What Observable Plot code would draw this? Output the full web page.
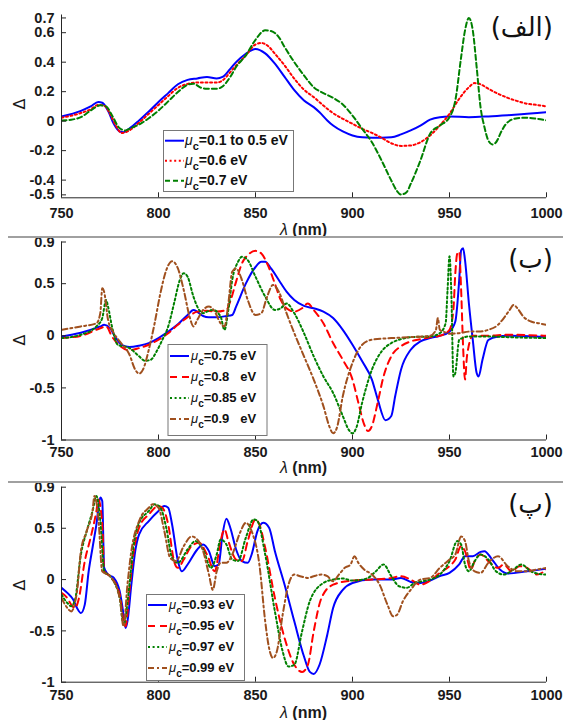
<!DOCTYPE html>
<html><head><meta charset="utf-8">
<script src="https://cdn.jsdelivr.net/npm/d3@7"></script>
<script src="https://cdn.jsdelivr.net/npm/@observablehq/plot@0.6"></script>
<style>
body{margin:0;background:#fff;}
#root{position:relative;width:563px;height:720px;overflow:hidden;background:#fff;}
.sep{position:absolute;left:8px;width:555px;height:2px;background:#a0a0a0;}
</style></head>
<body><div id="root"></div>
<script>
// ---------- data ----------
const xDomain = [750, 1000];
const xTicks = [750, 800, 850, 900, 950, 1000];

// panel (الف)
const p1Labels = ["0.1 to 0.5 eV", "0.6 eV", "0.7 eV"];
const p1BlueX = [750,760,765,769,771,774,777,780,782,785,790,795,800,805,810,815,820,825,830,833,837,840,845,850,855,860,865,870,875,880,883,887,890,895,900,905,910,915,920,925,930,935,940,945,950,960,970,980,990,1000];
const p1BlueY = [0.032,0.07,0.10,0.13,0.125,0.07,-0.02,-0.07,-0.075,-0.05,0.005,0.065,0.13,0.19,0.25,0.28,0.29,0.30,0.29,0.30,0.355,0.40,0.457,0.49,0.46,0.39,0.30,0.21,0.14,0.095,0.06,0.005,-0.03,-0.07,-0.097,-0.11,-0.113,-0.113,-0.11,-0.09,-0.063,-0.03,0.01,0.027,0.032,0.027,0.032,0.04,0.05,0.06];
const p1RedX = [750,760,765,769,772,775,778,781,785,790,795,800,805,810,815,820,825,830,833,837,840,845,850,853,857,860,865,870,875,880,885,890,895,900,905,910,915,920,925,930,935,940,945,950,955,960,963,966,970,975,980,985,990,995,1000];
const p1RedY = [0.023,0.055,0.08,0.11,0.105,0.05,-0.03,-0.08,-0.063,-0.01,0.05,0.11,0.17,0.226,0.253,0.262,0.262,0.262,0.276,0.333,0.378,0.446,0.52,0.53,0.503,0.457,0.378,0.288,0.213,0.163,0.106,0.054,0.016,-0.018,-0.052,-0.08,-0.113,-0.15,-0.168,-0.165,-0.143,-0.097,-0.03,0.05,0.152,0.23,0.258,0.25,0.22,0.186,0.158,0.136,0.118,0.11,0.10];
const p1GreenX = [750,755,760,765,770,773,776,780,783,785,790,795,800,805,810,815,818,822,825,830,833,837,840,845,850,855,858,862,865,870,875,880,885,890,895,900,905,910,915,920,923,925,928,930,935,940,945,950,953,956,958,960,962,964,966,968,970,972,974,977,980,985,990,995,1000];
const p1GreenY = [0.005,0.01,0.027,0.072,0.107,0.10,0.04,-0.048,-0.063,-0.052,-0.023,0.02,0.072,0.134,0.197,0.247,0.254,0.226,0.22,0.22,0.235,0.30,0.367,0.446,0.552,0.616,0.611,0.57,0.503,0.40,0.31,0.23,0.19,0.158,0.113,0.038,-0.052,-0.143,-0.267,-0.403,-0.475,-0.498,-0.48,-0.426,-0.267,-0.086,-0.03,0.027,0.14,0.435,0.616,0.70,0.616,0.367,0.095,-0.04,-0.131,-0.158,-0.143,-0.063,-0.007,0.02,0.023,0.016,0.005];

// panel (ب)
const p2Labels = ["0.75 eV", "0.8   eV", "0.85 eV", "0.9   eV"];
const p2BlueX = [750,760,770,772,775,778,781,785,790,795,800,805,810,815,818,820,823,826,830,835,838,840,845,850,853,855,858,862,866,870,875,880,885,890,895,900,905,910,913,917,920,922,925,930,935,940,945,950,953,955,956,957,958,960,962,964,965,967,970,975,980,1000];
const p2BlueY = [-0.006,0.03,0.09,0.105,0.073,-0.02,-0.086,-0.108,-0.095,-0.07,-0.022,0.04,0.11,0.2,0.248,0.23,0.19,0.178,0.178,0.19,0.2,0.28,0.5,0.66,0.71,0.71,0.646,0.535,0.424,0.344,0.287,0.264,0.232,0.17,0.057,-0.086,-0.245,-0.42,-0.61,-0.81,-0.77,-0.58,-0.325,-0.134,-0.054,-0.022,0,0.04,0.137,0.535,0.82,0.84,0.726,0.31,-0.04,-0.357,-0.39,-0.23,-0.04,-0.006,0,-0.013];
const p2RedX = [750,760,770,773,776,780,785,790,795,800,805,810,815,820,825,830,835,837,840,843,846,850,853,856,860,863,866,870,874,877,880,885,890,895,900,903,906,908,910,913,916,920,925,930,935,940,945,950,952,953,954,955,956,957,958,959,962,970,980,1000];
const p2RedY = [-0.022,0,0.073,0.09,-0.006,-0.095,-0.14,-0.118,-0.086,-0.038,0.025,0.105,0.178,0.232,0.24,0.232,0.248,0.33,0.52,0.694,0.774,0.815,0.79,0.694,0.5,0.344,0.264,0.232,0.264,0.31,0.248,0.12,-0.07,-0.23,-0.42,-0.64,-0.85,-0.914,-0.866,-0.64,-0.39,-0.197,-0.1,-0.054,-0.032,-0.013,0,0.057,0.248,0.6,0.79,0.806,0.44,-0.1,-0.42,-0.197,0,0,0.01,0];
const p2GreenX = [750,760,768,771,773,774,776,779,785,790,793,796,799,802,805,808,811,813,815,818,820,823,825,828,832,834,836,838,841,843,846,850,855,860,863,866,870,875,880,885,890,895,898,900,902,905,910,915,920,925,930,940,945,948,949,950,951,952,953,955,960,970,980,1000];
const p2GreenY = [-0.022,0.01,0.09,0.17,0.344,0.28,0.09,-0.086,-0.118,-0.197,-0.24,-0.23,-0.15,-0.038,0.09,0.31,0.535,0.6,0.567,0.376,0.28,0.217,0.232,0.248,0.185,0.057,0.248,0.535,0.71,0.758,0.726,0.567,0.376,0.248,0.264,0.31,0.217,0.025,-0.197,-0.39,-0.548,-0.77,-0.9,-0.936,-0.88,-0.64,-0.325,-0.15,-0.07,-0.032,-0.013,-0.006,0.025,0.12,0.44,0.764,0.376,-0.39,-0.357,-0.04,-0.006,-0.006,-0.013,-0.022];
const p2BrownX = [750,760,768,770,771,772,774,777,780,785,788,790,792,795,798,801,804,807,810,813,816,818,820,823,826,829,832,834,836,838,840,843,846,850,853,856,859,862,866,870,875,880,885,888,890,892,895,900,905,910,920,930,940,943,944,945,947,950,955,960,965,970,975,978,981,983,985,988,992,996,1000];
const p2BrownY = [0.057,0.09,0.12,0.217,0.455,0.42,0.153,0.025,-0.054,-0.18,-0.325,-0.363,-0.325,-0.134,0.12,0.41,0.63,0.716,0.646,0.44,0.185,0.09,0.153,0.248,0.28,0.232,0.12,0.09,0.31,0.615,0.646,0.535,0.344,0.2,0.217,0.376,0.487,0.424,0.217,0.025,-0.197,-0.42,-0.675,-0.866,-0.936,-0.88,-0.58,-0.26,-0.086,-0.038,-0.022,-0.013,0,0.057,0.17,0.057,0.04,0.02,0.025,0.04,0.04,0.057,0.105,0.17,0.248,0.296,0.264,0.185,0.137,0.12,0.105];

// panel (پ)
const p3Labels = ["0.93 eV", "0.95 eV", "0.97 eV", "0.99 eV"];
const p3BlueX = [750,753,756,758,760,762,764,766,768,770,771,772,774,777,780,782,783,784,786,788,790,795,800,803,805,807,810,812,815,820,823,826,829,831,833,835,837,840,843,846,848,851,854,857,860,865,870,875,878,880,883,887,890,895,900,910,920,925,930,935,940,945,950,955,958,962,966,968,972,976,980,990,1000];
const p3BlueY = [-0.08,-0.13,-0.195,-0.277,-0.326,-0.244,0.08,0.31,0.537,0.8,0.765,0.114,0.05,0.016,-0.114,-0.342,-0.472,-0.407,-0.05,0.277,0.44,0.57,0.668,0.716,0.7,0.537,0.18,0.08,0.147,0.293,0.342,0.277,0.13,0.147,0.44,0.593,0.505,0.293,0.18,0.163,0.244,0.472,0.553,0.505,0.277,-0.05,-0.407,-0.75,-0.9,-0.92,-0.83,-0.537,-0.277,-0.1,-0.033,0,0,0.016,-0.023,-0.033,-0.01,0.033,0.065,0.147,0.228,0.228,0.27,0.277,0.195,0.098,0.059,0.08,0.107];
const p3RedX = [750,753,755,757,759,762,765,768,769,771,772,775,780,782,783,785,787,790,795,800,802,805,808,810,813,817,821,825,829,832,834,836,840,843,846,850,852,855,860,865,870,874,877,880,884,890,900,910,920,925,930,935,940,945,950,953,956,958,961,963,966,970,975,978,982,986,990,995,1000];
const p3RedY = [-0.13,-0.18,-0.244,-0.277,-0.18,0.18,0.407,0.668,0.78,0.537,0.08,0.033,-0.147,-0.407,-0.456,-0.114,0.244,0.505,0.635,0.716,0.7,0.537,0.18,0.114,0.195,0.326,0.358,0.244,0.08,0.375,0.489,0.375,0.195,0.18,0.375,0.586,0.537,0.31,-0.18,-0.57,-0.83,-0.9,-0.83,-0.505,-0.18,-0.05,-0.01,0,0.016,0.033,0,-0.05,-0.01,0.065,0.13,0.195,0.326,0.277,0.098,0.18,0.244,0.18,0.114,0.147,0.08,0.13,0.114,0.049,0.098];
const p3GreenX = [750,753,755,757,760,763,766,768,770,772,775,780,782,785,787,790,795,798,801,804,807,810,815,819,823,827,830,832,835,838,841,845,849,851,855,860,864,867,870,874,878,885,890,895,900,905,908,912,916,920,924,928,932,936,940,945,950,954,956,958,960,963,966,970,974,978,983,987,992,996,1000];
const p3GreenY = [-0.147,-0.228,-0.26,-0.195,0.244,0.472,0.668,0.814,0.57,0.08,0.033,-0.18,-0.44,-0.05,0.31,0.553,0.668,0.733,0.7,0.505,0.212,0.163,0.293,0.375,0.293,0.114,0.244,0.39,0.342,0.195,0.18,0.407,0.586,0.57,0.244,-0.31,-0.7,-0.847,-0.83,-0.505,-0.21,-0.033,0,0.01,-0.01,0,0.016,0.08,0.147,0.033,-0.065,-0.08,-0.033,-0.016,0,0.049,0.18,0.375,0.342,0.147,0.08,0.18,0.244,0.195,0.08,0.049,0.098,0.147,0.08,0.055,0.049];
const p3BrownX = [750,753,755,758,760,763,766,767,769,771,775,780,782,784,786,790,795,797,800,803,806,809,813,817,820,823,826,828,830,832,835,838,842,845,848,852,855,857,859,861,864,867,870,873,877,880,884,887,890,893,896,899,901,903,906,910,914,918,921,923,926,930,935,940,945,950,953,956,958,960,963,966,970,975,980,985,990,995,1000];
const p3BrownY = [-0.18,-0.277,-0.31,-0.114,0.277,0.472,0.668,0.814,0.6,0.08,0.033,-0.18,-0.456,-0.05,0.277,0.57,0.7,0.733,0.7,0.472,0.212,0.18,0.326,0.42,0.39,0.277,0.049,-0.1,0.08,0.163,0.163,0.244,0.456,0.553,0.472,0.147,-0.407,-0.668,-0.765,-0.7,-0.342,-0.05,0.049,0.033,0.016,0.033,0.049,0.033,-0.016,0.049,0.114,0.147,0.228,0.163,0.098,0.049,-0.05,-0.244,-0.358,-0.342,-0.21,-0.1,0,0.016,0.114,0.195,0.244,0.42,0.375,0.18,0.08,0.065,0.163,0.228,0.13,0.08,0.08,0.098,0.114];

// ---------- styles ----------
const BLUE = "#0000ff", RED = "#ff0000", GREEN = "#008000", BROWN = "#a0501e";
const SOLID = null, DOT = "2,2.6", DASH = "7,5", DASHDOT = "6,3,2,3", DASH1 = "5,3";

const panels = [
  {top: 0, height: 236, mt: 14.5, mb: 38.7, yDomain: [-0.52, 0.72], yTicks: [-0.5,-0.4,-0.2,0,0.2,0.4,0.6,0.7],
   tickPad: 10, lblY: 234.5, deltaY: 104, tag: "(الف)", tagY: 36,
   series: [
     {x: p1BlueX, y: p1BlueY, c: BLUE, d: SOLID, label: p1Labels[0]},
     {x: p1RedX, y: p1RedY, c: RED, d: DOT, label: p1Labels[1]},
     {x: p1GreenX, y: p1GreenY, c: GREEN, d: DASH1, label: p1Labels[2]}],
   legend: {x: 163, y: 130, w: 130, h: 61, row0: 140.7, pitch: 20, sx: 165, tx: 185, fs: 14}},
  {top: 236, height: 245, mt: 5.5, mb: 41.5, yDomain: [-1, 0.9], yTicks: [-1,-0.5,0,0.5,0.9],
   tickPad: 7, lblY: 472.5, deltaY: 340, tag: "(ب)", tagY: 268,
   series: [
     {x: p2BlueX, y: p2BlueY, c: BLUE, d: SOLID, label: p2Labels[0]},
     {x: p2RedX, y: p2RedY, c: RED, d: DASH, label: p2Labels[1]},
     {x: p2GreenX, y: p2GreenY, c: GREEN, d: DOT, label: p2Labels[2]},
     {x: p2BrownX, y: p2BrownY, c: BROWN, d: DASHDOT, label: p2Labels[3]}],
   legend: {x: 167.5, y: 344, w: 99, h: 91, row0: 356, pitch: 21, sx: 170, tx: 191, fs: 13}},
  {top: 481, height: 239, mt: 5.7, mb: 38.3, yDomain: [-1, 0.9], yTicks: [-1,-0.5,0,0.5,0.9],
   tickPad: 8, lblY: 717.5, deltaY: 585, tag: "(پ)", tagY: 513,
   series: [
     {x: p3BlueX, y: p3BlueY, c: BLUE, d: SOLID, label: p3Labels[0]},
     {x: p3RedX, y: p3RedY, c: RED, d: DASH, label: p3Labels[1]},
     {x: p3GreenX, y: p3GreenY, c: GREEN, d: DOT, label: p3Labels[2]},
     {x: p3BrownX, y: p3BrownY, c: BROWN, d: DASHDOT, label: p3Labels[3]}],
   legend: {x: 146, y: 594, w: 98, h: 86, row0: 605, pitch: 21, sx: 148, tx: 169, fs: 13}}
];

const W = 563, ML = 61, MR = 17;
const AX = "#262626";
const root = document.getElementById("root");

panels.forEach(p => {
  const innerH = p.height - p.mt - p.mb, innerW = W - ML - MR;
  const lines = p.series.map(s => Plot.line(d3.zip(s.x, s.y), {
    x: d => d[0], y: d => d[1], stroke: s.c, strokeWidth: 2,
    strokeDasharray: s.d, curve: "monotone-x", clip: true
  }));
  const chart = Plot.plot({
    width: W, height: p.height,
    marginLeft: ML, marginRight: MR, marginTop: p.mt, marginBottom: p.mb,
    style: {fontFamily: "'Liberation Sans', Arial, sans-serif", fontSize: "14.5px", fontWeight: "bold", color: "#1a1a1a", background: "transparent"},
    x: {domain: xDomain},
    y: {domain: p.yDomain},
    marks: [
      ...lines,
      Plot.ruleX([xDomain[0]], {stroke: AX, strokeWidth: 1}),
      Plot.ruleY([p.yDomain[0]], {stroke: AX, strokeWidth: 1}),
      Plot.tickX(xTicks, {x: d => d, insetTop: innerH - 5, stroke: AX}),
      Plot.tickY(p.yTicks, {y: d => d, insetRight: innerW - 5, stroke: AX}),
      Plot.axisX({ticks: xTicks, tickSize: 0, tickPadding: p.tickPad, label: null, tickFormat: d => String(d)}),
      Plot.axisY({ticks: p.yTicks, tickSize: 0, tickPadding: 7, label: null, tickFormat: d => String(d)})
    ]
  });
  chart.style.position = "absolute";
  chart.style.left = "0px";
  chart.style.top = p.top + "px";
  chart.style.overflow = "visible";
  root.appendChild(chart);

  const svg = d3.select(chart);
  const off = p.top;
  // x label
  const xl = svg.append("text").attr("x", ML + innerW / 2).attr("y", p.lblY - off)
    .attr("text-anchor", "middle").attr("fill", "#1a1a1a")
    .style("font", "bold 16px 'Liberation Sans', Arial, sans-serif");
  xl.append("tspan").style("font-style", "italic").style("font-weight", "normal").text("λ");
  xl.append("tspan").text(" (nm)");
  // y label
  svg.append("text").attr("transform", `translate(19,${p.deltaY - off}) rotate(-90)`)
    .attr("text-anchor", "middle").attr("dy", "0.35em").attr("fill", "#1a1a1a")
    .style("font", "16px 'DejaVu Sans', sans-serif").text("Δ");
  // panel tag
  svg.append("text").attr("x", 553).attr("y", p.tagY - off).attr("text-anchor", "end")
    .attr("fill", "#111").style("font", "26px 'DejaVu Sans', sans-serif").text(p.tag);
  // legend
  const L = p.legend;
  const g = svg.append("g").attr("text-anchor", "start");
  g.append("rect").attr("x", L.x + 0.5).attr("y", L.y - off + 0.5).attr("width", L.w).attr("height", L.h)
    .attr("fill", "#fff").attr("stroke", "#777").attr("stroke-width", 1);
  p.series.forEach((s, i) => {
    const cy = L.row0 + i * L.pitch - off;
    g.append("line").attr("x1", L.sx).attr("x2", L.sx + 19).attr("y1", cy).attr("y2", cy)
      .attr("stroke", s.c).attr("stroke-width", 2).attr("stroke-dasharray", s.d);
    const t = g.append("text").attr("x", L.tx).attr("y", cy + 4).attr("fill", "#111")
      .attr("text-anchor", "start")
      .style("font", `bold ${L.fs}px 'Liberation Sans', Arial, sans-serif`).style("white-space", "pre");
    t.append("tspan").style("font-style", "italic").style("font-weight", "normal").text("μ");
    t.append("tspan").attr("dy", 5).style("font-size", (L.fs - 3) + "px").text("c");
    t.append("tspan").attr("dy", -5).text("=" + s.label);
  });
});

// separators between stacked panels
[235.5, 480.5].forEach(y => {
  const d = document.createElement("div");
  d.className = "sep"; d.style.top = y + "px";
  root.appendChild(d);
});
</script></body></html>
